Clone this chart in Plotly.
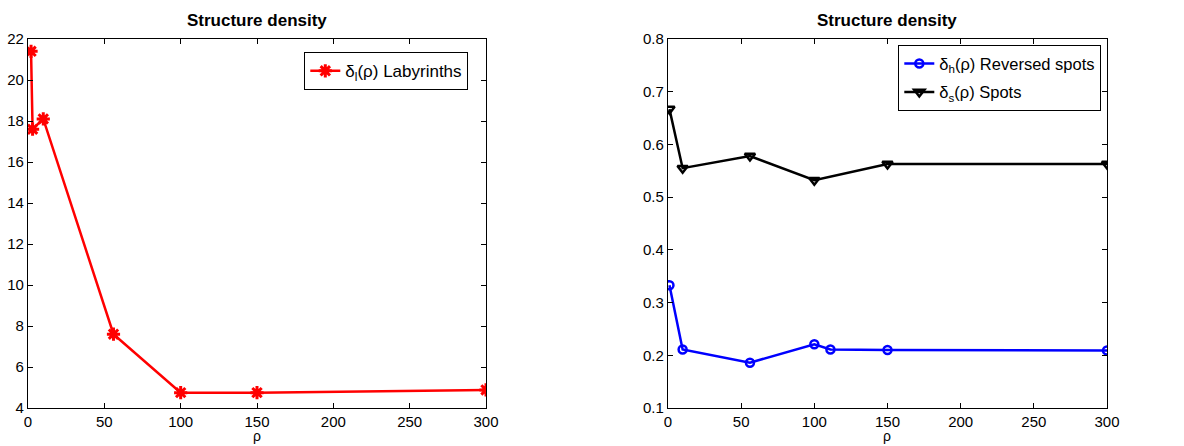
import plotly.graph_objects as go

# Left panel: labyrinth density
rho_l = [2, 3, 10, 56, 100, 150, 300]
delta_l = [21.4, 17.6, 18.1, 7.6, 4.75, 4.75, 4.88]

# Right panel
rho_h = [1, 10, 56, 100, 111, 150, 300]
delta_h = [0.333, 0.211, 0.186, 0.221, 0.211, 0.210, 0.209]
rho_s = [1, 10, 56, 100, 150, 300]
delta_s = [0.667, 0.555, 0.578, 0.532, 0.563, 0.563]

left_yticks = [4, 6, 8, 10, 12, 14, 16, 18, 20, 22]
right_yticks = [0.1, 0.2, 0.3, 0.4, 0.5, 0.6, 0.7, 0.8]
xticks = [0, 50, 100, 150, 200, 250, 300]

W, H = 1184, 446
FONT = "Liberation Sans, Arial, Helvetica, sans-serif"

def px_x(p):
    return p / W

def px_y(p):
    return 1 - p / H

fig = go.Figure()

fig.add_trace(go.Scatter(
    x=rho_l, y=delta_l, mode="lines+markers",
    name="δ<sub>l</sub>(ρ) Labyrinths",
    line=dict(color="#ff0000", width=2.5),
    marker=dict(symbol="asterisk-open", size=11, color="#ff0000",
                line=dict(color="#ff0000", width=3)),
    xaxis="x", yaxis="y", legend="legend",
))
fig.add_trace(go.Scatter(
    x=rho_h, y=delta_h, mode="lines+markers",
    name="δ<sub>h</sub>(ρ) Reversed spots",
    line=dict(color="#0000ff", width=2.5),
    marker=dict(symbol="circle-open", size=8, color="#0000ff",
                line=dict(color="#0000ff", width=2.5)),
    xaxis="x2", yaxis="y2", legend="legend2", legendgroup="h",
))
fig.add_trace(go.Scatter(
    x=rho_s, y=delta_s, mode="lines+markers",
    name="δ<sub>s</sub>(ρ) Spots",
    line=dict(color="#000000", width=2.5),
    marker=dict(symbol="triangle-down-open", size=9, color="#000000",
                line=dict(color="#000000", width=2.5)),
    xaxis="x2", yaxis="y2", legend="legend2", legendgroup="s",
))

axis_common = dict(
    showline=True, linecolor="black", linewidth=1.3, mirror="ticks",
    ticks="inside", ticklen=5, tickcolor="black", showgrid=False,
    zeroline=False, tickfont=dict(family=FONT, size=15, color="black"),
    automargin=False,
)

ydom = [px_y(408), px_y(39)]

fig.update_layout(
    width=W, height=H,
    margin=dict(l=0, r=0, t=0, b=0),
    paper_bgcolor="white", plot_bgcolor="white",
    font=dict(family=FONT, size=15, color="black"),
    xaxis=dict(domain=[px_x(28), px_x(486)], range=[0, 300], tickvals=xticks,
               anchor="y", **axis_common),
    yaxis=dict(domain=ydom, range=[4, 22], tickvals=left_yticks,
               anchor="x", **axis_common),
    xaxis2=dict(domain=[px_x(668), px_x(1107)], range=[0, 300], tickvals=xticks,
                anchor="y2", **axis_common),
    yaxis2=dict(domain=ydom, range=[0.1, 0.8], tickvals=right_yticks,
                tickformat=".1f", anchor="x2", **axis_common),
    legend=dict(x=px_x(468), y=px_y(52), xanchor="right", yanchor="top",
                bordercolor="black", borderwidth=1.3, bgcolor="white",
                font=dict(family=FONT, size=17, color="black")),
    legend2=dict(x=px_x(1101), y=px_y(45), xanchor="right", yanchor="top",
                 bordercolor="black", borderwidth=1.3, bgcolor="white",
                 tracegroupgap=4,
                 font=dict(family=FONT, size=16.5, color="black")),
    showlegend=True,
)

annotations = []
for cx in (257, 887):
    annotations.append(dict(
        text="<b>Structure density</b>", x=px_x(cx), y=px_y(20),
        xref="paper", yref="paper", xanchor="center", yanchor="middle",
        showarrow=False, font=dict(family=FONT, size=17, color="black")))
for cx in (257, 887):
    annotations.append(dict(
        text="ρ", x=px_x(cx), y=0,
        xref="paper", yref="paper", xanchor="center", yanchor="bottom",
        showarrow=False, font=dict(family=FONT, size=14, color="black")))
fig.update_layout(annotations=annotations)

fig.write_html("out.html")
